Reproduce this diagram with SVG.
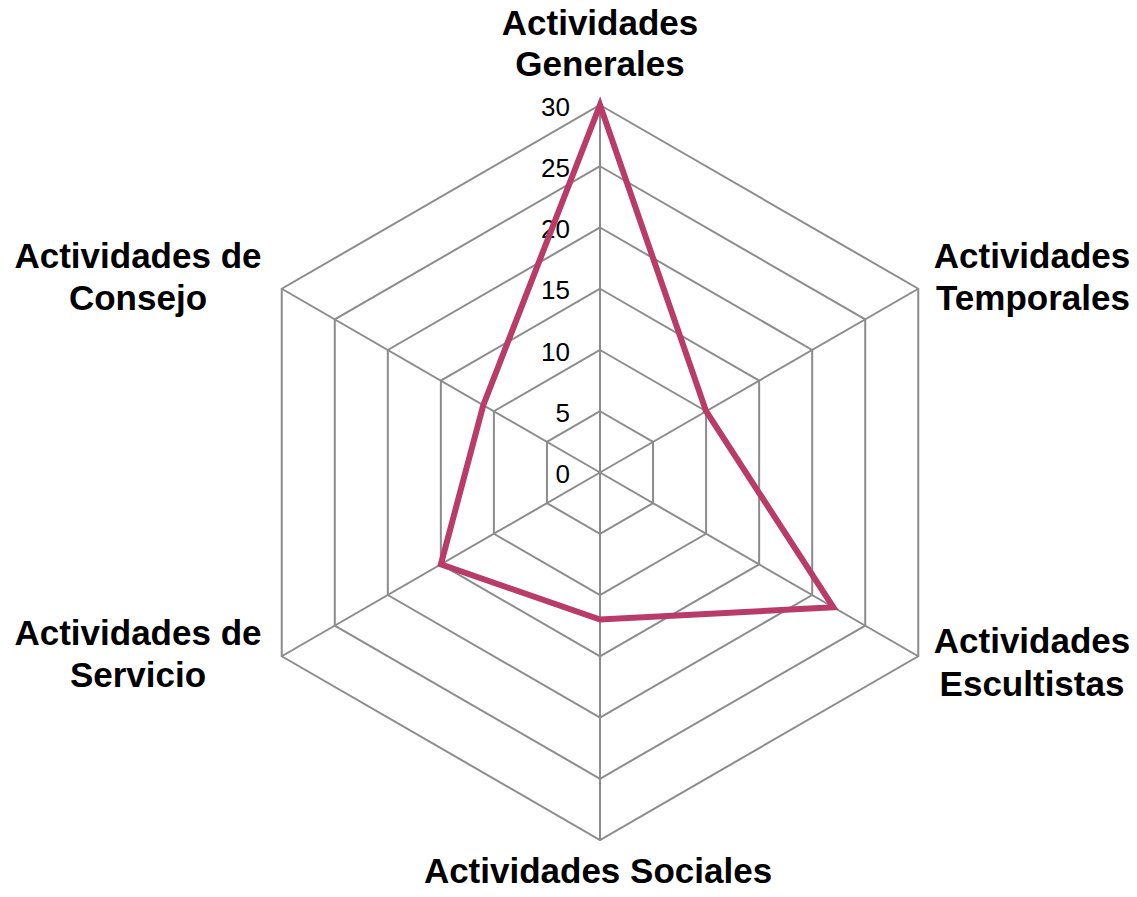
<svg xmlns="http://www.w3.org/2000/svg" width="1137" height="897" viewBox="0 0 1137 897">
<style>
.grid{fill:none;stroke:#8c8c8c;stroke-width:2}
.data{fill:none;stroke:#b93b67;stroke-width:6;stroke-linejoin:miter}
.tick{font-family:"Liberation Sans",Arial,sans-serif;font-size:26px;fill:#000;text-anchor:end}
.lbl{font-family:"Liberation Sans",Arial,sans-serif;font-size:35px;font-weight:bold;fill:#000;text-anchor:middle}
</style>
<rect width="1137" height="897" fill="#fff"/>
<g id="grid">
<polygon class="grid" points="600,411.25 653.04,441.875 653.04,503.125 600,533.75 546.96,503.125 546.96,441.875"/>
<polygon class="grid" points="600,350 706.09,411.25 706.09,533.75 600,595 493.91,533.75 493.91,411.25"/>
<polygon class="grid" points="600,288.75 759.13,380.625 759.13,564.375 600,656.25 440.87,564.375 440.87,380.625"/>
<polygon class="grid" points="600,227.5 812.18,350 812.18,595 600,717.5 387.82,595 387.82,350"/>
<polygon class="grid" points="600,166.25 865.22,319.375 865.22,625.625 600,778.75 334.78,625.625 334.78,319.375"/>
<polygon class="grid" points="600,105 918.26,288.75 918.26,656.25 600,840 281.74,656.25 281.74,288.75"/>
<path class="grid" d="M600,472.5L600,105M600,472.5L918.26,288.75M600,472.5L918.26,656.25M600,472.5L600,840M600,472.5L281.74,656.25M600,472.5L281.74,288.75"/>
</g>
<g id="ticks">
<text class="tick" x="570" y="483">0</text>
<text class="tick" x="570" y="421.75">5</text>
<text class="tick" x="570" y="360.5">10</text>
<text class="tick" x="570" y="299.25">15</text>
<text class="tick" x="570" y="238">20</text>
<text class="tick" x="570" y="176.75">25</text>
<text class="tick" x="570" y="115.5">30</text>
</g>
<g id="connectors">
<polygon class="data" points="600,105 706.09,411.25 833.39,607.25 600,619.5 440.87,564.375 483.3,405.125"/>
</g>
<g id="node-generales"><text class="lbl" x="600" y="35">Actividades</text><text class="lbl" x="600" y="76">Generales</text></g>
<g id="node-temporales"><text class="lbl" x="1032" y="268">Actividades</text><text class="lbl" x="1033" y="310">Temporales</text></g>
<g id="node-escultistas"><text class="lbl" x="1032" y="653">Actividades</text><text class="lbl" x="1032" y="696">Escultistas</text></g>
<g id="node-sociales"><text class="lbl" x="598" y="883">Actividades Sociales</text></g>
<g id="node-servicio"><text class="lbl" x="138" y="645">Actividades de</text><text class="lbl" x="138" y="687">Servicio</text></g>
<g id="node-consejo"><text class="lbl" x="138" y="268">Actividades de</text><text class="lbl" x="138" y="310">Consejo</text></g>
</svg>
